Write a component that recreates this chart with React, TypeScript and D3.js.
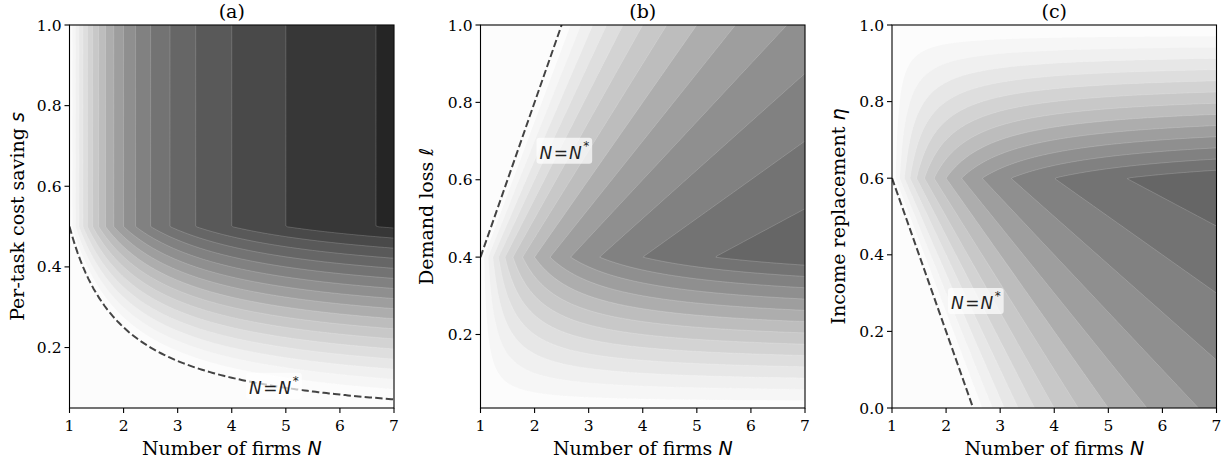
import React, { useEffect, useRef } from "react";
import * as d3 from "d3";

// axis ticks
const nTicks = [1, 2, 3, 4, 5, 6, 7];
const sTicks = [0.2, 0.4, 0.6, 0.8, 1.0];
const ellTicks = [0.2, 0.4, 0.6, 0.8, 1.0];
const etaTicks = [0.0, 0.2, 0.4, 0.6, 0.8, 1.0];

// axis ranges
const nRange = [1, 7];
const sRange = [0.05, 1];
const ellRange = [0.01, 1];
const etaRange = [0, 1];

// filled contour levels (shared by all three panels)
const levels = [
  0.05, 0.1, 0.15, 0.2, 0.25, 0.3, 0.35, 0.4, 0.45, 0.5, 0.55, 0.6, 0.65,
  0.7, 0.75, 0.8, 0.85,
];
const levelStep = 0.05;

// matplotlib "Greys" anchors
const greys = [
  "#ffffff", "#f0f0f0", "#d9d9d9", "#bdbdbd", "#969696",
  "#737373", "#525252", "#252525", "#000000",
];

// where the contours bend in each panel (s, l, eta)
const kinks = [0.5, 0.4, 0.6];
// N = N* label positions (N, y)
const labelSpots = [
  [4.78, 0.1],
  [2.55, 0.67],
  [2.55, 0.274],
];

// the surfaces: the value is zero on the N = N* boundary
const surfaceA = (n: number, s: number) =>
  Math.max(0, 2 * Math.min(s, kinks[0]) - 1 / n);
const surfaceB = (n: number, l: number) =>
  Math.max(0, 2 * Math.min(l, kinks[1]) - (2 * l) / n);
const surfaceC = (n: number, e: number) =>
  Math.max(0, 2 * Math.min(1 - e, 1 - kinks[2]) - (2 * (1 - e)) / n);

// N = N* boundaries
const nStarA = d3.range(0, 121).map((k) => {
  const n = 1 + (k / 120) * 6;
  return [n, kinks[0] / n];
});
const nStarB = [
  [1, kinks[1]],
  [1 / kinks[1], 1.0],
];
const nStarC = [
  [1, kinks[2]],
  [1 / (1 - kinks[2]), 0.0],
];

const axesTop = 25;
const axesW = 324.5;
const axesH = 383;

const panels = [
  {
    title: "(a)", left: 69.5, yRange: sRange, yTicks: sTicks,
    yName: "Per-task cost saving ", yVar: "s", labelX: 24,
    surface: surfaceA, nStar: nStarA, spot: labelSpots[0],
  },
  {
    title: "(b)", left: 480.5, yRange: ellRange, yTicks: ellTicks,
    yName: "Demand loss ", yVar: "\u2113", labelX: 433,
    surface: surfaceB, nStar: nStarB, spot: labelSpots[1],
  },
  {
    title: "(c)", left: 892, yRange: etaRange, yTicks: etaTicks,
    yName: "Income replacement ", yVar: "\u03b7", labelX: 845,
    surface: surfaceC, nStar: nStarC, spot: labelSpots[2],
  },
];

const serif = "'DejaVu Serif', serif";
const sans = "'DejaVu Sans', sans-serif";

const App = () => {
  const ref = useRef<SVGSVGElement>(null);

  useEffect(() => {
    document.body.style.margin = "0";
    const svg = d3.select(ref.current);
    svg.selectAll("*").remove();

    const grey = d3
      .scaleLinear<string>()
      .domain(d3.range(greys.length).map((i) => i / (greys.length - 1)))
      .range(greys)
      .interpolate(d3.interpolateRgb);

    const nx = 330;
    const ny = 390;

    panels.forEach((p, pi) => {
      const x = d3.scaleLinear().domain(nRange).range([p.left, p.left + axesW]);
      const y = d3
        .scaleLinear()
        .domain(p.yRange)
        .range([axesTop + axesH, axesTop]);

      // sample the surface on cell centres
      const values = new Array(nx * ny);
      for (let j = 0; j < ny; j++) {
        const yv = p.yRange[1] - ((j + 0.5) / ny) * (p.yRange[1] - p.yRange[0]);
        for (let i = 0; i < nx; i++) {
          const xv = nRange[0] + ((i + 0.5) / nx) * (nRange[1] - nRange[0]);
          values[j * nx + i] = p.surface(xv, yv);
        }
      }
      const bands = d3.contours().size([nx, ny]).thresholds(levels)(values);

      const proj = d3.geoTransform({
        point(px: number, py: number) {
          this.stream.point(p.left + (px / nx) * axesW, axesTop + (py / ny) * axesH);
        },
      });
      const path = d3.geoPath(proj);

      const clipId = `clip-${pi}`;
      svg
        .append("clipPath")
        .attr("id", clipId)
        .append("rect")
        .attr("x", p.left)
        .attr("y", axesTop)
        .attr("width", axesW)
        .attr("height", axesH);

      const g = svg.append("g").attr("clip-path", `url(#${clipId})`);

      g.append("rect")
        .attr("x", p.left)
        .attr("y", axesTop)
        .attr("width", axesW)
        .attr("height", axesH)
        .attr("fill", grey(levelStep / 2));

      g.selectAll("path.band")
        .data(bands)
        .enter()
        .append("path")
        .attr("class", "band")
        .attr("d", (d) => path(d as any))
        .attr("fill", (d) => grey(d.value + levelStep / 2))
        .attr("stroke", "#ffffff")
        .attr("stroke-opacity", 0.3)
        .attr("stroke-width", 0.6);

      // N = N* dashed boundary
      const line = d3
        .line<number[]>()
        .x((d) => x(d[0]))
        .y((d) => y(d[1]));
      g.append("path")
        .attr("d", line(p.nStar))
        .attr("fill", "none")
        .attr("stroke", "#444444")
        .attr("stroke-width", 2)
        .attr("stroke-dasharray", "7.4,3.2");

      // label with translucent box
      const lab = svg
        .append("text")
        .attr("x", x(p.spot[0]))
        .attr("y", y(p.spot[1]))
        .attr("text-anchor", "middle")
        .attr("dominant-baseline", "central")
        .attr("font-family", sans)
        .attr("font-size", 17)
        .attr("fill", "#222");
      lab.append("tspan").attr("font-style", "italic").text("N");
      lab.append("tspan").attr("dx", 1.5).text("=");
      lab.append("tspan").attr("dx", 1).attr("font-style", "italic").text("N");
      lab
        .append("tspan")
        .attr("dx", 1.5)
        .attr("dy", -7)
        .attr("font-size", 12)
        .text("*");
      const bb = (lab.node() as SVGTextElement).getBBox();
      svg
        .insert("rect", () => lab.node())
        .attr("x", bb.x - 3)
        .attr("y", bb.y - 1)
        .attr("width", bb.width + 6)
        .attr("height", bb.height + 2)
        .attr("rx", 3)
        .attr("fill", "#ffffff")
        .attr("fill-opacity", 0.7);

      // frame
      svg
        .append("rect")
        .attr("x", p.left)
        .attr("y", axesTop)
        .attr("width", axesW)
        .attr("height", axesH)
        .attr("fill", "none")
        .attr("stroke", "#000")
        .attr("stroke-width", 1.1);

      // x axis
      const xAxis = svg.append("g");
      nTicks.forEach((t) => {
        xAxis
          .append("line")
          .attr("x1", x(t))
          .attr("x2", x(t))
          .attr("y1", axesTop + axesH)
          .attr("y2", axesTop + axesH + 5)
          .attr("stroke", "#000")
          .attr("stroke-width", 1.1);
        xAxis
          .append("text")
          .attr("x", x(t))
          .attr("y", axesTop + axesH + 23)
          .attr("text-anchor", "middle")
          .attr("font-family", serif)
          .attr("font-size", 15.5)
          .text(String(t));
      });

      // y axis
      const yAxis = svg.append("g");
      p.yTicks.forEach((t) => {
        yAxis
          .append("line")
          .attr("x1", p.left - 5)
          .attr("x2", p.left)
          .attr("y1", y(t))
          .attr("y2", y(t))
          .attr("stroke", "#000")
          .attr("stroke-width", 1.1);
        yAxis
          .append("text")
          .attr("x", p.left - 8)
          .attr("y", y(t))
          .attr("dy", "0.36em")
          .attr("text-anchor", "end")
          .attr("font-family", serif)
          .attr("font-size", 15.5)
          .text(d3.format(".1f")(t));
      });

      // title
      svg
        .append("text")
        .attr("x", p.left + axesW / 2)
        .attr("y", 18)
        .attr("text-anchor", "middle")
        .attr("font-family", serif)
        .attr("font-size", 19)
        .text(p.title);

      // x label
      const xl = svg
        .append("text")
        .attr("x", p.left + axesW / 2)
        .attr("y", 455)
        .attr("text-anchor", "middle")
        .attr("font-family", serif)
        .attr("font-size", 19);
      xl.append("tspan").text("Number of firms ");
      xl.append("tspan")
        .attr("font-family", sans)
        .attr("font-style", "italic")
        .text("N");

      // y label
      const yl = svg
        .append("text")
        .attr(
          "transform",
          `translate(${p.labelX},${axesTop + axesH / 2}) rotate(-90)`
        )
        .attr("text-anchor", "middle")
        .attr("font-family", serif)
        .attr("font-size", 19);
      yl.append("tspan").text(p.yName);
      yl.append("tspan")
        .attr("font-family", sans)
        .attr("font-style", "italic")
        .text(p.yVar);
    });
  }, []);

  return <svg ref={ref} width={1228} height={463} style={{ display: "block" }} />;
};

export default App;
